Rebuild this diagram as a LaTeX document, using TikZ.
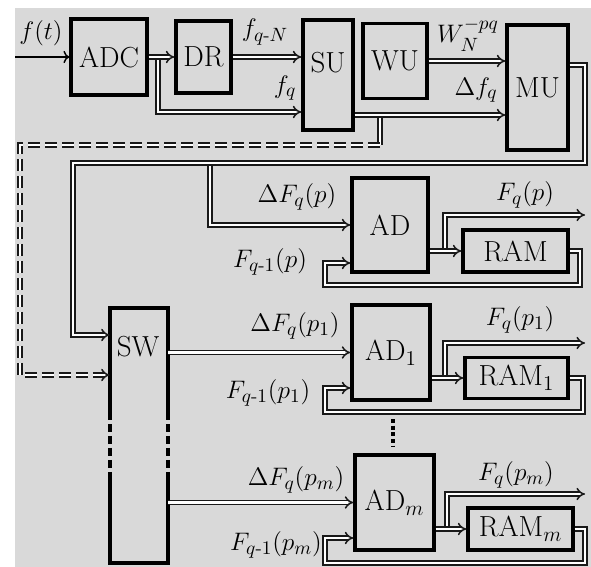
\documentclass[tikz,border=0pt]{standalone}
\usepackage{amsmath, amssymb}
\usepackage{tikz}
\usetikzlibrary{arrows.meta}

\begin{document}
\begin{tikzpicture}[x=0.02cm, y=-0.02cm,
  blk/.style={draw, line width=1.9pt, inner sep=0pt, font=\fontsize{16.5}{19}\selectfont},
  bus/.style={draw=black!90, double=white, double distance=1.5pt, line width=0.85pt},
  busto/.style={bus, -{Implies}},
  dashbus/.style={busto, dash pattern=on 0.24cm off 0.1cm},
  lbl/.style={font=\fontsize{15.5}{18}\selectfont}]
  \useasboundingbox (0,0) rectangle (591,567);
  \fill[black!15] (15,8) rectangle (591,567);

  % blocks
  \node[blk, minimum width=1.52cm, minimum height=1.52cm] (adc) at (109,57) {ADC};
  \node[blk, minimum width=1.1cm, minimum height=1.44cm] (dr) at (203.5,57) {DR};
  \node[blk, minimum width=1cm, minimum height=2.2cm, text depth=0.5cm] (su) at (328,75) {SU};
  \node[blk, minimum width=1.28cm, minimum height=1.5cm] (wu) at (395,61) {WU};
  \node[blk, minimum width=1.22cm, minimum height=2.5cm] (mu) at (537.5,87.5) {MU};
  \node[blk, minimum width=1.52cm, minimum height=1.88cm] (ad) at (390,225) {AD};
  \node[blk, minimum width=2.1cm, minimum height=0.84cm] (ram) at (515.5,251) {RAM};
  \node[blk, minimum width=1.56cm, minimum height=1.9cm] (ad1) at (391,352.5) {AD$_1$};
  \node[blk, minimum width=2.06cm, minimum height=0.82cm] (ram1) at (516.5,378) {RAM$_1$};
  \node[blk, minimum width=1.58cm, minimum height=1.9cm] (adm) at (394.5,502.5) {AD$_m$};
  \node[blk, minimum width=2.1cm, minimum height=0.84cm] (ramm) at (520.5,529) {RAM$_m$};
  \node[minimum width=1.16cm, minimum height=5.1cm, inner sep=0pt] (sw) at (139,435.5) {};
  \node[font=\fontsize{16.5}{19}\selectfont] (swtxt) at (138,347) {SW};
  \draw[line width=1.9pt] (110,412) |- (168,308) -- (168,412);
  \draw[line width=1.9pt, dash pattern=on 0.16cm off 0.08cm] (110,412) -- (110,478) (168,412) -- (168,478);
  \draw[line width=1.9pt] (110,478) |- (168,563) -- (168,478);
  \draw[line width=2.2pt, dash pattern=on 2.2pt off 1.6pt] (393,419) -- (393,447);

  % turning points
  \coordinate (fin) at (15,57);
  \coordinate (split) at (158,57);
  \coordinate (fqrow) at (158,112);
  \coordinate (dfq) at (380,115);
  \coordinate (dfqdown) at (380,145);
  \coordinate (dcorner) at (20,145);
  \coordinate (swin2) at (20,375);
  \coordinate (mur) at (585,65);
  \coordinate (mub) at (585,163);
  \coordinate (mul) at (73,163);
  \coordinate (swin1) at (73,335);
  \coordinate (adtap) at (210,163);
  \coordinate (tap) at (445,251);
  \coordinate (fqp) at (585,215);
  \coordinate (fba) at (580,285);
  \coordinate (fbb) at (325,285);
  \coordinate (fbc) at (325,263);
  \coordinate (tap1) at (445,378);
  \coordinate (fqp1) at (585,343);
  \coordinate (fb1a) at (583,412);
  \coordinate (fb1b) at (325,412);
  \coordinate (fb1c) at (325,388);
  \coordinate (tapm) at (447,529);
  \coordinate (fqpm) at (585,494);
  \coordinate (fbma) at (585,563);
  \coordinate (fbmb) at (325,563);
  \coordinate (fbmc) at (325,538);

  % input stage
  \draw[->, line width=0.8pt] (fin) -- (adc.west);
  \draw[busto] (split) -- (fqrow) -- (su.west |- fqrow);
  \draw[busto] (adc.east) -- (dr.west);
  \draw[busto] (dr.east) -- (su.west |- dr.east);
  \draw[busto] (wu.east) -- (mu.west |- wu.east);
  \draw[bus] (dfq) -- (dfqdown);
  \draw[dashbus] (dfqdown) -- (dcorner) -- (swin2) -- (sw.west |- swin2);
  \draw[busto] (su.east |- dfq) -- (mu.west |- dfq);
  \draw[busto] (adtap) |- (ad.west);
  \draw[busto] (mu.east |- mur) -- (mur) -- (mub) -- (mul) -- (swin1) -- (sw.west |- swin1);

  % accumulators
  \draw[busto] (tap) |- (fqp);
  \draw[busto] (ad.east |- ram.west) -- (ram.west);
  \draw[busto] (ram.east) -| (fba) -- (fbb) -- (fbc) -- (ad.west |- fbc);
  \draw[busto] (sw.east |- ad1.west) -- (ad1.west);
  \draw[busto] (tap1) |- (fqp1);
  \draw[busto] (ad1.east |- ram1.west) -- (ram1.west);
  \draw[busto] (ram1.east) -| (fb1a) -- (fb1b) -- (fb1c) -- (ad1.west |- fb1c);
  \draw[busto] (sw.east |- adm.west) -- (adm.west);
  \draw[busto] (tapm) |- (fqpm);
  \draw[busto] (adm.east |- ramm.west) -- (ramm.west);
  \draw[busto] (ramm.east) -| (fbma) -- (fbmb) -- (fbmc) -- (adm.west |- fbmc);

  % labels
  \node[lbl] (lft) at (41,33) {$f(t)$};
  \node[lbl] (lfqn) at (265,32) {$f_{q\text{-}N}$};
  \node[lbl] (lfq) at (285,88) {$f_q$};
  \node[lbl] (lw) at (468,35) {$W_N^{-pq}$};
  \node[lbl] (ldf) at (476,90) {$\Delta f_q$};
  \node[lbl] (ldF) at (297,197) {$\Delta F_q(p)$};
  \node[lbl] (lF) at (525,195) {$F_q(p)$};
  \node[lbl] (lFo) at (270,262) {$F_{q\text{-}1}(p)$};
  \node[lbl] (ldF1) at (295,326) {$\Delta F_q(p_1)$};
  \node[lbl] (lF1) at (520,320) {$F_q(p_1)$};
  \node[lbl] (lFo1) at (268,393) {$F_{q\text{-}1}(p_1)$};
  \node[lbl] (ldFm) at (296,480) {$\Delta F_q(p_m)$};
  \node[lbl] (lFm) at (516,475) {$F_q(p_m)$};
  \node[lbl] (lFom) at (276,545) {$F_{q\text{-}1}(p_m)$};
\end{tikzpicture}
\end{document}
